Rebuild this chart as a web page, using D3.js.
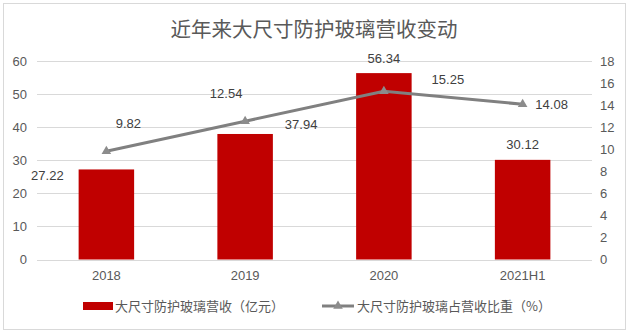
<!DOCTYPE html>
<html><head><meta charset="utf-8">
<script src="https://cdn.jsdelivr.net/npm/d3@7"></script>
<style>body{margin:0;background:#fff}svg{display:block;font-family:"Liberation Sans","Noto Sans CJK SC",sans-serif}</style>
</head><body><svg id="c" width="629" height="332"></svg>
<script>
const categories = ["2018","2019","2020","2021H1"];
const revenue = [27.22, 37.94, 56.34, 30.12];
const share = [9.82, 12.54, 15.25, 14.08];
const leftTicks = [0,10,20,30,40,50,60];
const rightTicks = [0,2,4,6,8,10,12,14,16,18];
const title = "近年来大尺寸防护玻璃营收变动";
const legendBar = "大尺寸防护玻璃营收（亿元）";
const legendLine = "大尺寸防护玻璃占营收比重（%）";

const svg = d3.select("#c");
const cjk = '"Noto Sans CJK SC",sans-serif';
svg.append("rect").attr("x",3.5).attr("y",3.5).attr("width",622).attr("height",326)
  .attr("fill","#fff").attr("stroke","#d9d9d9");

const L = 37, R = 592, T = 61, B = 259.5;
const x = d3.scaleBand().domain(categories).range([L,R]).paddingInner(0.6).paddingOuter(0.3);
const yL = d3.scaleLinear().domain([0,60]).range([B,T]);
const yR = d3.scaleLinear().domain([0,18]).range([B,T]);

svg.append("text").attr("x",314).attr("y",37).attr("text-anchor","middle")
  .attr("font-family",cjk).attr("font-size",20.5).attr("fill","#595959").text(title);

// grid
svg.append("g").selectAll("line").data(leftTicks).join("line")
  .attr("x1",L).attr("x2",R).attr("y1",d=>Math.round(yL(d))+0.5).attr("y2",d=>Math.round(yL(d))+0.5)
  .attr("stroke","#d9d9d9").attr("stroke-width",1);

// left axis
const gl = svg.append("g").attr("transform",`translate(${L},0)`)
  .call(d3.axisLeft(yL).tickValues(leftTicks).tickSize(0).tickPadding(10));
gl.select(".domain").remove();
gl.selectAll("text").attr("font-size",13).attr("fill","#595959").attr("font-family","Liberation Sans");

// right axis
const gr = svg.append("g").attr("transform",`translate(${R},0)`)
  .call(d3.axisRight(yR).tickValues(rightTicks).tickSize(0).tickPadding(8));
gr.select(".domain").remove();
gr.selectAll("text").attr("font-size",13).attr("fill","#595959").attr("font-family","Liberation Sans");

// x axis
const gx = svg.append("g").attr("transform",`translate(0,${B})`)
  .call(d3.axisBottom(x).tickSize(0).tickPadding(11));
gx.select(".domain").remove();
gx.selectAll("text").attr("font-size",13).attr("fill","#595959").attr("font-family","Liberation Sans");

// bars
svg.append("g").selectAll("rect").data(revenue).join("rect")
  .attr("x",(d,i)=>x(categories[i])).attr("width",x.bandwidth())
  .attr("y",d=>yL(d)).attr("height",d=>B-yL(d)).attr("fill","#c00000");

// line
const line = d3.line().x((d,i)=>x(categories[i])+x.bandwidth()/2).y(d=>yR(d));
svg.append("path").datum(share).attr("d",line).attr("fill","none")
  .attr("stroke","#808080").attr("stroke-width",3);
const tri = d3.symbol().type(d3.symbolTriangle).size(40);
svg.append("g").selectAll("path").data(share).join("path")
  .attr("d",tri).attr("fill","#8c8c8c")
  .attr("transform",(d,i)=>`translate(${x(categories[i])+x.bandwidth()/2},${yR(d)})`);

// bar labels (offsets mimic the reference placement)
const barOff = [[-59,11],[56,-5],[0,-10],[0,-11]];
svg.append("g").selectAll("text").data(revenue).join("text")
  .attr("x",(d,i)=>x(categories[i])+x.bandwidth()/2+barOff[i][0])
  .attr("y",(d,i)=>yL(d)+barOff[i][1])
  .attr("text-anchor","middle").attr("font-size",13).attr("fill","#404040")
  .attr("font-family","Liberation Sans").text(d=>d.toFixed(2));

const lineOff = [[22,-23],[-19,-23],[64,-7],[29,5]];
svg.append("g").selectAll("text").data(share).join("text")
  .attr("x",(d,i)=>x(categories[i])+x.bandwidth()/2+lineOff[i][0])
  .attr("y",(d,i)=>yR(d)+lineOff[i][1])
  .attr("text-anchor","middle").attr("font-size",13).attr("fill","#404040")
  .attr("font-family","Liberation Sans").text(d=>d.toFixed(2));

// legend
const ly = 306;
svg.append("rect").attr("x",83).attr("y",ly-4).attr("width",30).attr("height",8).attr("fill","#c00000");
svg.append("text").attr("x",115).attr("y",ly+5).attr("font-size",13).attr("fill","#595959")
  .attr("font-family",cjk).text(legendBar);
svg.append("line").attr("x1",322).attr("x2",354).attr("y1",ly).attr("y2",ly)
  .attr("stroke","#808080").attr("stroke-width",3);
svg.append("path").attr("d",tri).attr("fill","#8c8c8c").attr("transform",`translate(338,${ly})`);
svg.append("text").attr("x",357).attr("y",ly+5).attr("font-size",13).attr("fill","#595959")
  .attr("font-family",cjk).text(legendLine);
</script></body></html>
